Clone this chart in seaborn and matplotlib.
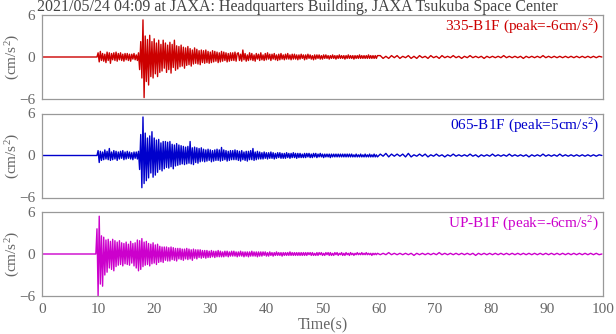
import numpy as np
import pandas as pd
import matplotlib
matplotlib.use("Agg")
import matplotlib.pyplot as plt
import seaborn as sns
from matplotlib.ticker import MultipleLocator

# ---------------- data ----------------
title = "2021/05/24 04:09 at JAXA: Headquarters Building, JAXA Tsukuba Space Center"
channels = ["335-B1F", "065-B1F", "UP-B1F"]
peaks = [-6, 5, -6]
colors = ["#cc0000", "#0000cc", "#cc00cc"]
onsets = [9.8, 9.8, 9.6]          # s, start of motion
fast_dt = 0.2                      # s, sample spacing up to ~60 s
tail_dt = 0.5                      # s, sample spacing of late coda

# strong motion (from onset, every 0.2 s)
red_strong = [
    0.0, 0.6, -0.7, 0.8, -0.5, 0.5, -0.6, 0.4, -0.8, 0.7,
    -0.5, 0.6, -0.9, 0.5, -0.4, 0.6, -0.5, 0.7, -0.6, 0.5,
    -0.4, 0.6, -0.5, 0.4, -0.6, 0.5, -0.4, 0.5, -0.5, 0.4,
    -0.6, 0.4, -0.3, 0.5, -0.4, 0.3, -0.5, 0.6, -1.8, 2.2,
    -3.0, 5.3, -5.8, 3.0, -3.5, 2.5, -4.0, 3.1, -2.8, 2.2,
    -3.0, 2.6, -2.4, 2.0, -2.8, 2.4, -2.2, 1.8, -2.0, 2.4,
    -1.6, 2.0, -2.2, 1.7, -1.8, 2.1, -2.3, 1.8, -1.5, 2.4,
    -1.9, 1.6, -1.7, 1.5, -1.4, 1.7, -1.3, 1.4, -1.6, 1.3,
    -1.2, 1.5, -1.1, 1.2, -1.3, 1.0, -1.0, 1.3, -0.9, 1.1,
    -1.0, 0.9, -1.1, 1.0, -0.8, 0.9, -0.9, 1.0, -0.8, 0.8,
    -0.9, 0.7, -0.8, 0.9, -0.7, 0.8, -0.6, 0.7, -0.8, 0.6,
    -0.7, 0.8, -0.6, 0.7, -0.5, 0.6, -0.7, 0.5, -0.6, 0.6,
    -0.5, 0.6, -0.5, 0.7, -0.6, 0.5,
]
# early coda (continues every 0.2 s, to ~60 s)
red_coda = [
    0.6, -0.5, 0.4, -0.6, 1.0, -0.4, 0.5, -0.6, 0.3, -0.5,
    0.6, -0.4, 0.5, -0.5, 0.3, -0.6, 0.5, -0.3, 0.4, -0.5,
    0.6, -0.4, 0.3, -0.5, 0.5, -0.4, 0.6, -0.3, 0.4, -0.5,
    0.4, -0.3, 0.5, -0.4, 0.3, -0.5, 0.4, -0.4, 0.5, -0.3,
    0.3, -0.4, 0.4, -0.3, 0.5, -0.3, 0.3, -0.4, 0.4, -0.3,
    0.4, -0.3, 0.3, -0.4, 0.3, -0.3, 0.4, -0.2, 0.3, -0.4,
    0.3, -0.3, 0.4, -0.2, 0.3, -0.3, 0.2, -0.4, 0.3, -0.3,
    0.3, -0.2, 0.3, -0.3, 0.2, -0.3, 0.3, -0.2, 0.3, -0.2,
    0.2, -0.3, 0.2, -0.2, 0.3, -0.2, 0.2, -0.3, 0.2, -0.2,
    0.3, -0.2, 0.2, -0.2, 0.2, -0.3, 0.2, -0.2, 0.3, -0.2,
    0.2, -0.2, 0.2, -0.3, 0.2, -0.2, 0.2, -0.2, 0.3, -0.2,
    0.2, -0.2, 0.2, -0.2, 0.2, -0.2, 0.3, -0.2, 0.2, -0.2,
    0.2, -0.2, 0.2, -0.2, 0.2,
]
# late coda (every 0.5 s, to 100 s)
red_tail = [
    0.2, -0.2, 0.1, -0.2, 0.2, -0.1, 0.2, -0.2, 0.1, -0.1,
    0.2, -0.2, 0.1, -0.2, 0.2, -0.1, 0.1, -0.2, 0.2, -0.1,
    0.1, -0.2, 0.2, -0.1, 0.1, -0.1, 0.2, -0.1, 0.1, -0.2,
    0.1, -0.1, 0.2, -0.1, 0.1, -0.1, 0.1, -0.2, 0.1, -0.1,
    0.1, -0.1, 0.1, -0.1, 0.2, -0.1, 0.1, -0.1, 0.1, -0.1,
    0.1, -0.2, 0.1, -0.1, 0.1, -0.1, 0.1, -0.1, 0.2, -0.1,
    0.1, -0.1, 0.1, -0.1, 0.1, -0.1, 0.1, -0.1, 0.1, -0.1,
    0.1, -0.1, 0.1, -0.1, 0.1, -0.1, 0.1, -0.1, 0.1, 0.0,
]

blue_strong = [
    0.0, 0.7, -1.0, 0.6, -0.7, 0.5, -0.6, 0.8, -0.5, 0.6,
    -0.6, 1.0, -0.7, 0.5, -0.6, 0.7, -0.5, 0.6, -0.7, 0.5,
    -0.5, 0.6, -0.4, 0.7, -0.6, 0.5, -0.5, 0.6, -0.4, 0.5,
    -0.5, 0.4, -0.6, 0.5, -0.4, 0.5, -0.5, 0.6, -2.0, 3.0,
    -4.6, 5.5, -4.0, 3.2, -3.6, 2.5, -3.2, 2.8, -2.5, 3.4,
    -3.1, 2.5, -2.8, 2.2, -2.4, 2.3, -2.0, 1.8, -2.2, 2.0,
    -1.9, 2.0, -1.7, 1.9, -1.8, 2.0, -1.6, 1.6, -1.9, 1.5,
    -1.5, 1.7, -1.4, 1.5, -1.3, 1.4, -1.2, 1.3, -1.3, 1.2,
    -1.2, 1.3, -1.1, 2.0, -1.2, 1.1, -1.3, 1.2, -1.0, 1.1,
    -1.1, 1.0, -0.9, 1.1, -0.8, 0.9, -0.9, 0.8, -0.8, 0.9,
    -0.7, 0.8, -0.9, 0.7, -0.8, 0.8, -0.7, 0.9, -0.7, 0.8,
    -0.8, 1.15, -0.7, 0.8, -0.6, 0.7, -0.8, 0.6, -0.7, 0.7,
    -0.6, 0.7, -0.6, 0.8, -0.6, 0.7,
]
blue_coda = [
    -0.7, 0.6, -0.8, 0.7, -0.6, 0.5, -0.7, 0.6, -0.8, 0.6,
    -0.6, 0.7, -0.6, 1.0, -0.7, 0.5, -0.6, 0.6, -0.5, 0.5,
    -0.5, 0.4, -0.5, 0.5, -0.4, 0.4, -0.5, 0.4, -0.4, 0.5,
    -0.4, 0.4, -0.5, 0.3, -0.4, 0.4, -0.3, 0.4, -0.4, 0.3,
    -0.4, 0.3, -0.4, 0.4, -0.3, 0.3, -0.4, 0.3, -0.3, 0.4,
    -0.3, 0.3, -0.4, 0.3, -0.3, 0.3, -0.3, 0.2, -0.3, 0.3,
    -0.3, 0.3, -0.2, 0.3, -0.3, 0.2, -0.3, 0.3, -0.2, 0.3,
    -0.3, 0.2, -0.2, 0.3, -0.2, 0.2, -0.3, 0.2, -0.2, 0.2,
    -0.2, 0.2, -0.3, 0.2, -0.2, 0.2, -0.2, 0.2, -0.2, 0.2,
    -0.2, 0.2, -0.2, 0.2, -0.2, 0.2, -0.2, 0.2, -0.2, 0.2,
    -0.2, 0.2, -0.2, 0.1, -0.2, 0.2, -0.2, 0.1, -0.2, 0.2,
    -0.2, 0.1, -0.2, 0.2, -0.2, 0.1, -0.2, 0.2, -0.2, 0.1,
    -0.2, 0.2, -0.2, 0.1, -0.2,
]
blue_tail = [
    0.2, -0.1, 0.3, -0.2, 0.2, -0.1, 0.2, -0.1, 0.2, -0.2,
    0.3, -0.2, 0.1, -0.1, 0.2, -0.1, 0.2, -0.2, 0.1, -0.1,
    0.2, -0.1, 0.1, -0.2, 0.1, -0.1, 0.2, -0.1, 0.1, -0.1,
    0.1, -0.1, 0.2, -0.1, 0.1, -0.2, 0.1, -0.1, 0.1, -0.1,
    0.2, -0.1, 0.1, -0.1, 0.1, -0.1, 0.2, -0.1, 0.1, -0.1,
    0.1, -0.1, 0.1, -0.2, 0.1, -0.1, 0.1, -0.1, 0.2, -0.1,
    0.1, -0.1, 0.1, -0.1, 0.2, -0.1, 0.1, -0.1, 0.1, -0.1,
    0.1, -0.1, 0.1, -0.1, 0.1, -0.1, 0.1, -0.1, 0.1, 0.0,
]

magenta_strong = [
    0.0, 3.6, -6.0, 5.4, -4.3, 2.6, -4.6, 2.4, -3.0, 2.0,
    -2.6, 2.1, -2.0, 1.8, -2.2, 2.1, -2.4, 1.9, -1.8, 1.7,
    -1.6, 1.9, -1.5, 1.6, -1.7, 1.5, -1.4, 1.7, -1.5, 1.4,
    -1.6, 1.8, -1.3, 1.5, -1.7, 1.6, -2.0, 2.0, -2.4, 1.9,
    -2.2, 2.2, -1.8, 1.7, -1.6, 1.8, -1.5, 1.5, -1.7, 1.4,
    -1.4, 1.6, -1.3, 1.3, -1.5, 1.4, -1.2, 1.1, -1.1, 1.0,
    -1.2, 1.0, -0.9, 1.0, -1.0, 0.9, -1.0, 1.0, -0.8, 0.9,
    -0.9, 0.8, -1.0, 0.8, -0.7, 0.8, -0.8, 0.7, -0.9, 0.7,
    -0.7, 0.8, -0.8, 0.7, -0.7, 0.6, -0.9, 0.7, -0.6, 0.6,
    -0.7, 0.6, -0.5, 0.6, -0.6, 0.5, -0.5, 0.5, -0.6, 0.5,
    -0.5, 0.4, -0.5, 0.5, -0.4, 0.4, -0.5, 0.4, -0.4, 0.5,
    -0.4, 0.4, -0.4, 0.3, -0.4, 0.4, -0.3, 0.4, -0.4, 0.3,
    -0.3, 0.4, -0.3, 0.4, -0.3, 0.3, -0.4, 0.3,
]
magenta_coda = [
    -0.3, 0.4, -0.3, 0.3, -0.4, 0.3, -0.3, 0.3, -0.4, 0.3,
    -0.3, 0.4, -0.3, 0.3, -0.3, 0.3, -0.4, 0.3, -0.3, 0.3,
    -0.3, 0.3, -0.2, 0.3, -0.3, 0.2, -0.3, 0.3, -0.2, 0.2,
    -0.3, 0.2, -0.2, 0.3, -0.2, 0.2, -0.2, 0.2, -0.3, 0.2,
    -0.2, 0.2, -0.2, 0.2, -0.2, 0.3, -0.2, 0.2, -0.2, 0.2,
    -0.2, 0.2, -0.2, 0.2, -0.2, 0.2, -0.2, 0.2, -0.2, 0.2,
    -0.2, 0.2, -0.1, 0.2, -0.2, 0.2, -0.2, 0.1, -0.2, 0.2,
    -0.2, 0.2, -0.1, 0.2, -0.2, 0.1, -0.2, 0.2, -0.1, 0.2,
    -0.2, 0.2, -0.2, 0.1, -0.2, 0.2, -0.1, 0.2, -0.2, 0.1,
    -0.1, 0.2, -0.2, 0.1, -0.2, 0.2, -0.1, 0.1, -0.2, 0.2,
    -0.1, 0.1, -0.2, 0.1, -0.1, 0.2, -0.1, 0.1, -0.1, 0.2,
    -0.1, 0.1, -0.1, 0.2, -0.1, 0.1, -0.1, 0.1, -0.2, 0.1,
    -0.1, 0.1, -0.1, 0.1,
]
magenta_tail = [
    -0.1, 0.1, -0.1, 0.2, -0.1, 0.1, -0.1, 0.1, -0.1, 0.1,
    -0.1, 0.1, -0.2, 0.1, -0.1, 0.1, -0.1, 0.1, -0.1, 0.1,
    -0.1, 0.2, -0.1, 0.1, -0.1, 0.1, -0.1, 0.1, -0.1, 0.1,
    -0.1, 0.1, -0.1, 0.1, -0.2, 0.1, -0.1, 0.1, -0.1, 0.1,
    -0.1, 0.1, -0.1, 0.1, -0.1, 0.1, -0.1, 0.1, -0.1, 0.1,
    -0.1, 0.1, -0.1, 0.1, -0.1, 0.1, -0.1, 0.1, -0.1, 0.1,
    -0.1, 0.1, -0.1, 0.1, -0.1, 0.1, -0.1, 0.1, -0.1, 0.1,
    -0.1, 0.1, -0.1, 0.1, -0.1, 0.1, -0.1, 0.1, -0.1, 0.0,
]

strong_lists = [red_strong, blue_strong, magenta_strong]
coda_lists = [red_coda, blue_coda, magenta_coda]
tail_lists = [red_tail, blue_tail, magenta_tail]


def trace_frame(onset, strong, coda, tail):
    fast = list(strong) + list(coda)
    t_fast = onset + fast_dt * np.arange(len(fast))
    t_tail = t_fast[-1] + tail_dt * (1 + np.arange(len(tail)))
    t = np.concatenate([[0.0], t_fast, t_tail])
    v = np.concatenate([[0.0], fast, tail])
    return pd.DataFrame({"time": t, "accel": v})


# ---------------- style ----------------
sns.set_style("white")
plt.rcParams["font.family"] = ["Liberation Serif", "DejaVu Serif"]
plt.rcParams["mathtext.fontset"] = "custom"
plt.rcParams["mathtext.rm"] = "Liberation Serif"
plt.rcParams["mathtext.it"] = "Liberation Serif:italic"
plt.rcParams["mathtext.default"] = "rm"

spine_c = "#999999"
label_c = "#666666"

fig = plt.figure(figsize=(6.16, 3.34), dpi=100)
left, width, height = 42 / 616, 561 / 616, 84 / 334
bottoms = [(334 - 99) / 334, (334 - 197.5) / 334, (334 - 296) / 334]

for i in range(3):
    ax = fig.add_axes([left, bottoms[i], width, height])
    df = trace_frame(onsets[i], strong_lists[i], coda_lists[i], tail_lists[i])
    sns.lineplot(data=df, x="time", y="accel", sort=False, estimator=None,
                 color=colors[i], lw=1.0, ax=ax)
    ax.set_xlim(0, 100)
    ax.set_ylim(-6, 6)
    ax.set_yticks([-6, 0, 6])
    ax.yaxis.set_minor_locator(MultipleLocator(1))
    ax.xaxis.set_major_locator(MultipleLocator(10))
    ax.xaxis.set_minor_locator(MultipleLocator(2))
    ax.tick_params(which="both", direction="in", top=False, right=False,
                   color=spine_c, labelcolor=label_c, labelsize=11, width=0.8)
    ax.tick_params(which="major", length=4.5, pad=5)
    ax.tick_params(which="minor", length=2.5)
    for s in ax.spines.values():
        s.set_color(spine_c)
        s.set_linewidth(0.9)
    ax.set_ylabel("(cm/s$^2$)", color=label_c, fontsize=11)
    ax.yaxis.set_label_coords(-0.036, 0.5)
    if i < 2:
        ax.set_xlabel("")
        ax.tick_params(axis="x", labelbottom=False)
    else:
        ax.set_xlabel("Time(s)", color=label_c, fontsize=11.5, labelpad=1)
    ax.text(0.993, 0.965, f"{channels[i]} (peak={peaks[i]}cm/s$^2$)",
            transform=ax.transAxes, ha="right", va="top",
            color=colors[i], fontsize=11)

fig.text(37 / 616, 1 - 11 / 334, title, ha="left", va="baseline",
         fontsize=11.5, color="#444444")

fig.savefig("out.png", dpi=100)
